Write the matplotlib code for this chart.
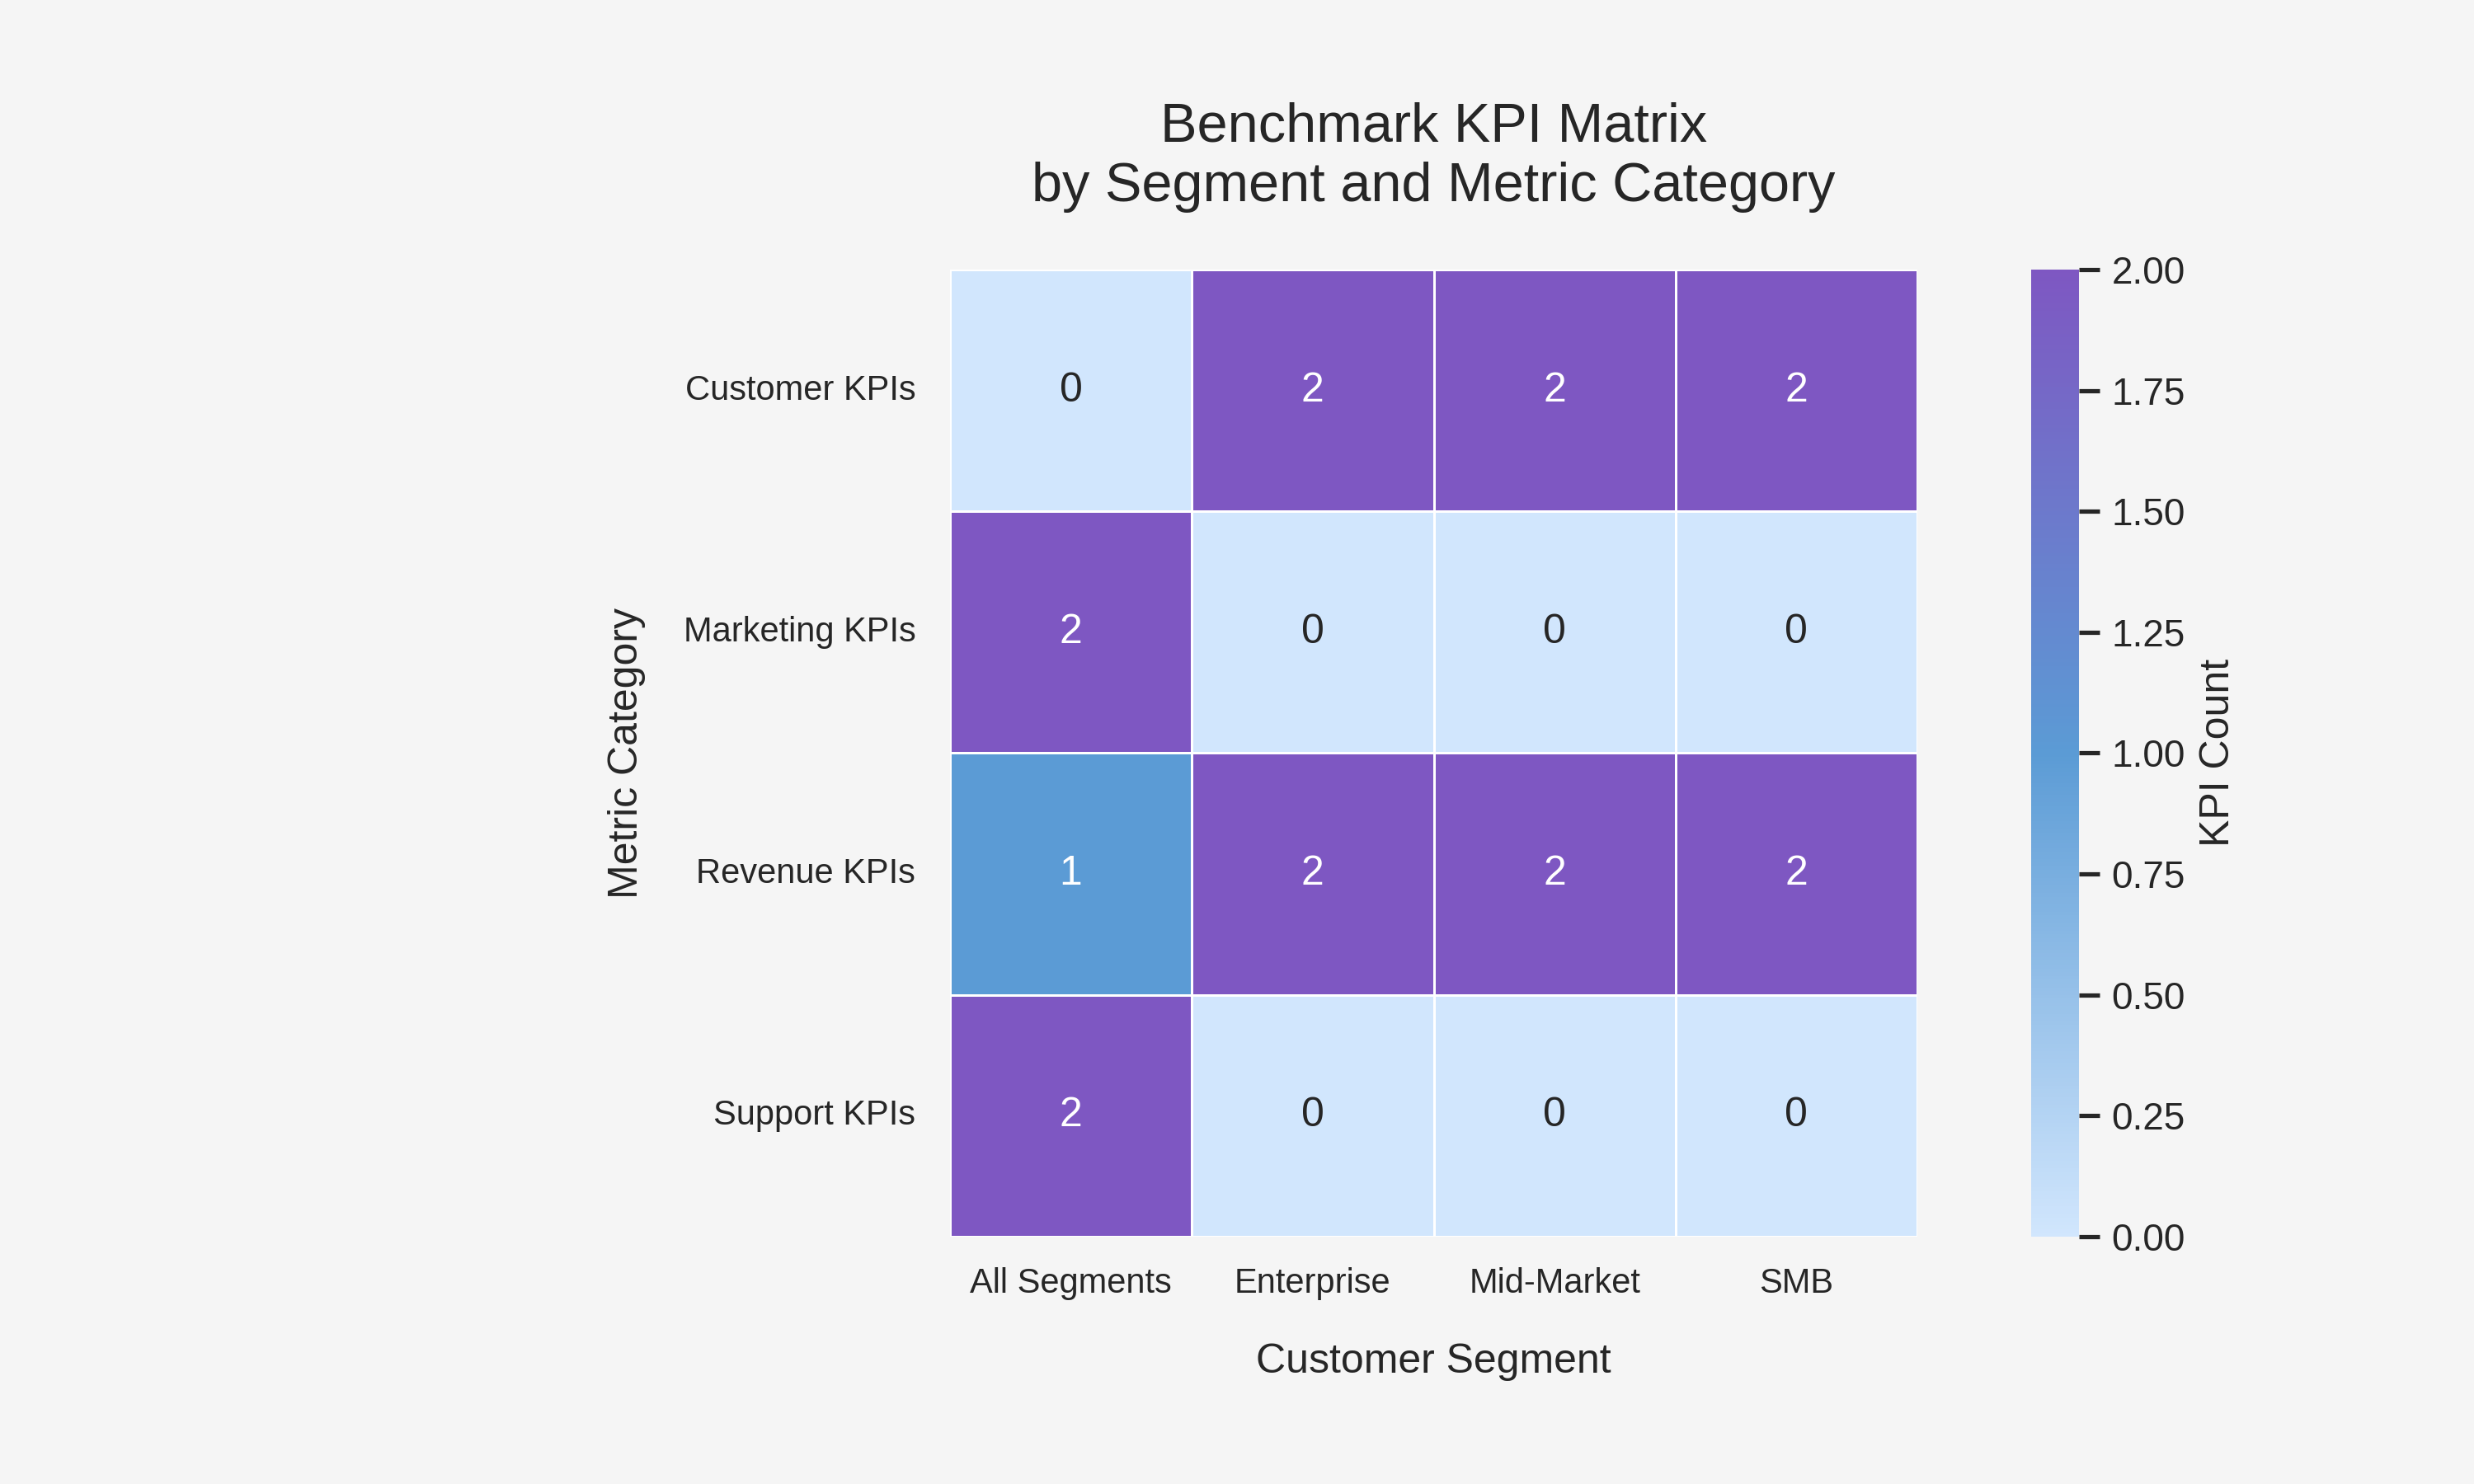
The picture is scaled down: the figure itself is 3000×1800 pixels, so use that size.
import numpy as np
import pandas as pd
import matplotlib
matplotlib.use("Agg")
import matplotlib.pyplot as plt
import seaborn as sns
from matplotlib.colors import LinearSegmentedColormap

categories = ["Customer KPIs", "Marketing KPIs", "Revenue KPIs", "Support KPIs"]
segments = ["All Segments", "Enterprise", "Mid-Market", "SMB"]
customer_kpis = [0, 2, 2, 2]
marketing_kpis = [2, 0, 0, 0]
revenue_kpis = [1, 2, 2, 2]
support_kpis = [2, 0, 0, 0]

sns.set_theme(style="white", context="notebook")
plt.rcParams['font.family'] = ['Liberation Sans', 'DejaVu Sans']
plt.rcParams['text.color'] = '#262626'
plt.rcParams['axes.labelcolor'] = '#262626'
plt.rcParams['xtick.color'] = '#262626'
plt.rcParams['ytick.color'] = '#262626'

matrix = pd.DataFrame([customer_kpis, marketing_kpis, revenue_kpis, support_kpis],
                      index=categories, columns=segments)

cmap = LinearSegmentedColormap.from_list("kpi", ["#d1e6fd", "#5b9bd5", "#7e57c2"])

fig = plt.figure(figsize=(10, 6), dpi=300)
fig.patch.set_facecolor("#f5f5f5")
ax = fig.add_axes([0.384, 0.1667, 0.391, 0.6517])
cax = fig.add_axes([0.821, 0.1667, 0.0193, 0.6517])

sns.heatmap(matrix, ax=ax, cbar_ax=cax, cmap=cmap, annot=True, fmt="d",
            linewidths=0.6, linecolor="white", square=True,
            annot_kws={"fontsize": 12},
            cbar_kws={"label": "KPI Count"})

ax.set_title("Benchmark KPI Matrix\nby Segment and Metric Category", fontsize=16, pad=20)
ax.set_xlabel("Customer Segment", fontsize=12, labelpad=12.5)
ax.set_ylabel("Metric Category", fontsize=12, labelpad=11)
ax.tick_params(axis="x", length=0, labelsize=10, pad=9)
ax.tick_params(axis="y", length=0, labelsize=10, pad=10)
plt.setp(ax.get_yticklabels(), rotation=0)
plt.setp(ax.get_xticklabels(), rotation=0)

cax.tick_params(labelsize=11, length=6, width=1.25)
cax.yaxis.label.set_size(12)
for s in cax.spines.values():
    s.set_visible(False)

fig.savefig("out.png", dpi=300, facecolor=fig.get_facecolor())
